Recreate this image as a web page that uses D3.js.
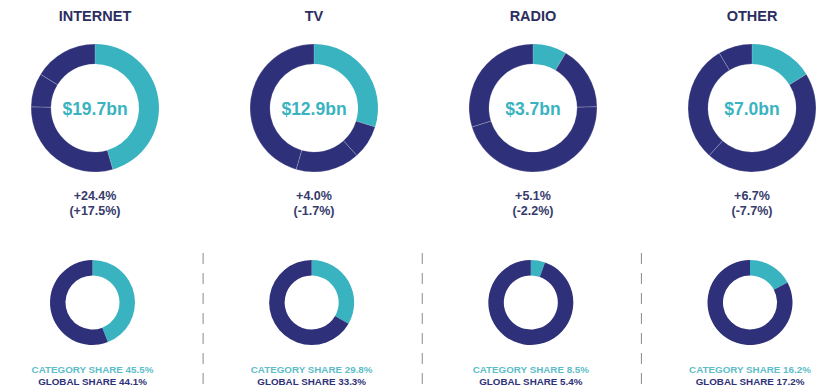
<!DOCTYPE html>
<html>
<head>
<meta charset="utf-8">
<script src="https://cdn.jsdelivr.net/npm/d3@7"></script>
<style>
  html, body { margin: 0; padding: 0; background: #fff; }
  svg { display: block; font-family: "Liberation Sans", Arial, sans-serif; }
</style>
</head>
<body>
<svg id="chart" width="838" height="390"></svg>
<script>
// ---- data ----
const categories = ["INTERNET", "TV", "RADIO", "OTHER"];
const spendBn = [19.7, 12.9, 3.7, 7.0];
const spendLabels = ["$19.7bn", "$12.9bn", "$3.7bn", "$7.0bn"];
const growth = ["+24.4%", "+4.0%", "+5.1%", "+6.7%"];
const globalGrowth = ["(+17.5%)", "(-1.7%)", "(-2.2%)", "(-7.7%)"];
const categoryShare = [45.5, 29.8, 8.5, 16.2];
const globalShare = [44.1, 33.3, 5.4, 17.2];

// ---- style ----
const TEAL = "#3ab3c1";
const NAVY = "#2e3179";
const TITLE = "#2c2e60";
const TEXT = "#363a6c";
const TEAL_TEXT = "#5dbdc8";

const svg = d3.select("#chart");

const x = d3.scalePoint().domain(categories).range([95, 752]);
const xb = d3.scalePoint().domain(categories).range([92.5, 750]);

const pie = d3.pie().sort(null).value(d => d.v);
const arcTop = d3.arc().innerRadius(44).outerRadius(64);
const arcBot = d3.arc().innerRadius(27).outerRadius(42.5);

categories.forEach((cat, i) => {
  const g = svg.append("g");
  const cx = x(cat);

  g.append("text")
    .attr("x", cx).attr("y", 20.5)
    .attr("text-anchor", "middle")
    .attr("font-size", 14.5).attr("font-weight", "bold")
    .attr("fill", TITLE)
    .text(cat);

  // top donut: own category highlighted, others in cyclic order
  const segs = categories.map((c, k) => {
    const j = (i + k) % categories.length;
    return { c: categories[j], v: spendBn[j], own: j === i };
  });
  const gt = g.append("g").attr("transform", `translate(${cx},108)`);
  gt.selectAll("path").data(pie(segs)).join("path")
    .attr("d", arcTop)
    .attr("fill", d => d.data.own ? TEAL : NAVY)
    .attr("stroke", d => d.data.own ? TEAL : "rgba(255,255,255,0.25)")
    .attr("stroke-width", d => d.data.own ? 0 : 0.8);

  gt.append("text")
    .attr("x", 0).attr("y", 6.5)
    .attr("text-anchor", "middle")
    .attr("font-size", 17.5).attr("font-weight", "bold")
    .attr("fill", TEAL)
    .text(spendLabels[i]);

  g.append("text")
    .attr("x", cx).attr("y", 200)
    .attr("text-anchor", "middle")
    .attr("font-size", 12.5).attr("font-weight", "bold")
    .attr("fill", TEXT)
    .text(growth[i]);
  g.append("text")
    .attr("x", cx).attr("y", 215)
    .attr("text-anchor", "middle")
    .attr("font-size", 12.5).attr("font-weight", "bold")
    .attr("fill", TEXT)
    .text(globalGrowth[i]);

  // bottom donut
  const bx = xb(cat);
  const gb = g.append("g").attr("transform", `translate(${bx},302.5)`);
  const bsegs = [{ v: globalShare[i], own: true }, { v: 100 - globalShare[i], own: false }];
  gb.selectAll("path").data(pie(bsegs)).join("path")
    .attr("d", arcBot)
    .attr("fill", d => d.data.own ? TEAL : NAVY);

  g.append("text")
    .attr("x", bx).attr("y", 372.5)
    .attr("text-anchor", "middle")
    .attr("font-size", 9.8).attr("font-weight", "bold")
    .attr("fill", TEAL_TEXT)
    .text(`CATEGORY SHARE ${categoryShare[i]}%`);
  g.append("text")
    .attr("x", bx).attr("y", 384.5)
    .attr("text-anchor", "middle")
    .attr("font-size", 9.8).attr("font-weight", "bold")
    .attr("fill", NAVY)
    .text(`GLOBAL SHARE ${globalShare[i]}%`);
});

// dashed dividers
const divs = categories.slice(1).map((c, k) => (xb(categories[k]) + xb(c)) / 2 + 1);
svg.selectAll("line.div").data(divs).join("line")
  .attr("class", "div")
  .attr("x1", d => d).attr("x2", d => d)
  .attr("y1", 253).attr("y2", 390)
  .attr("stroke", "#8a8a8a")
  .attr("stroke-width", 1)
  .attr("stroke-dasharray", "11,9");
</script>
</body>
</html>
